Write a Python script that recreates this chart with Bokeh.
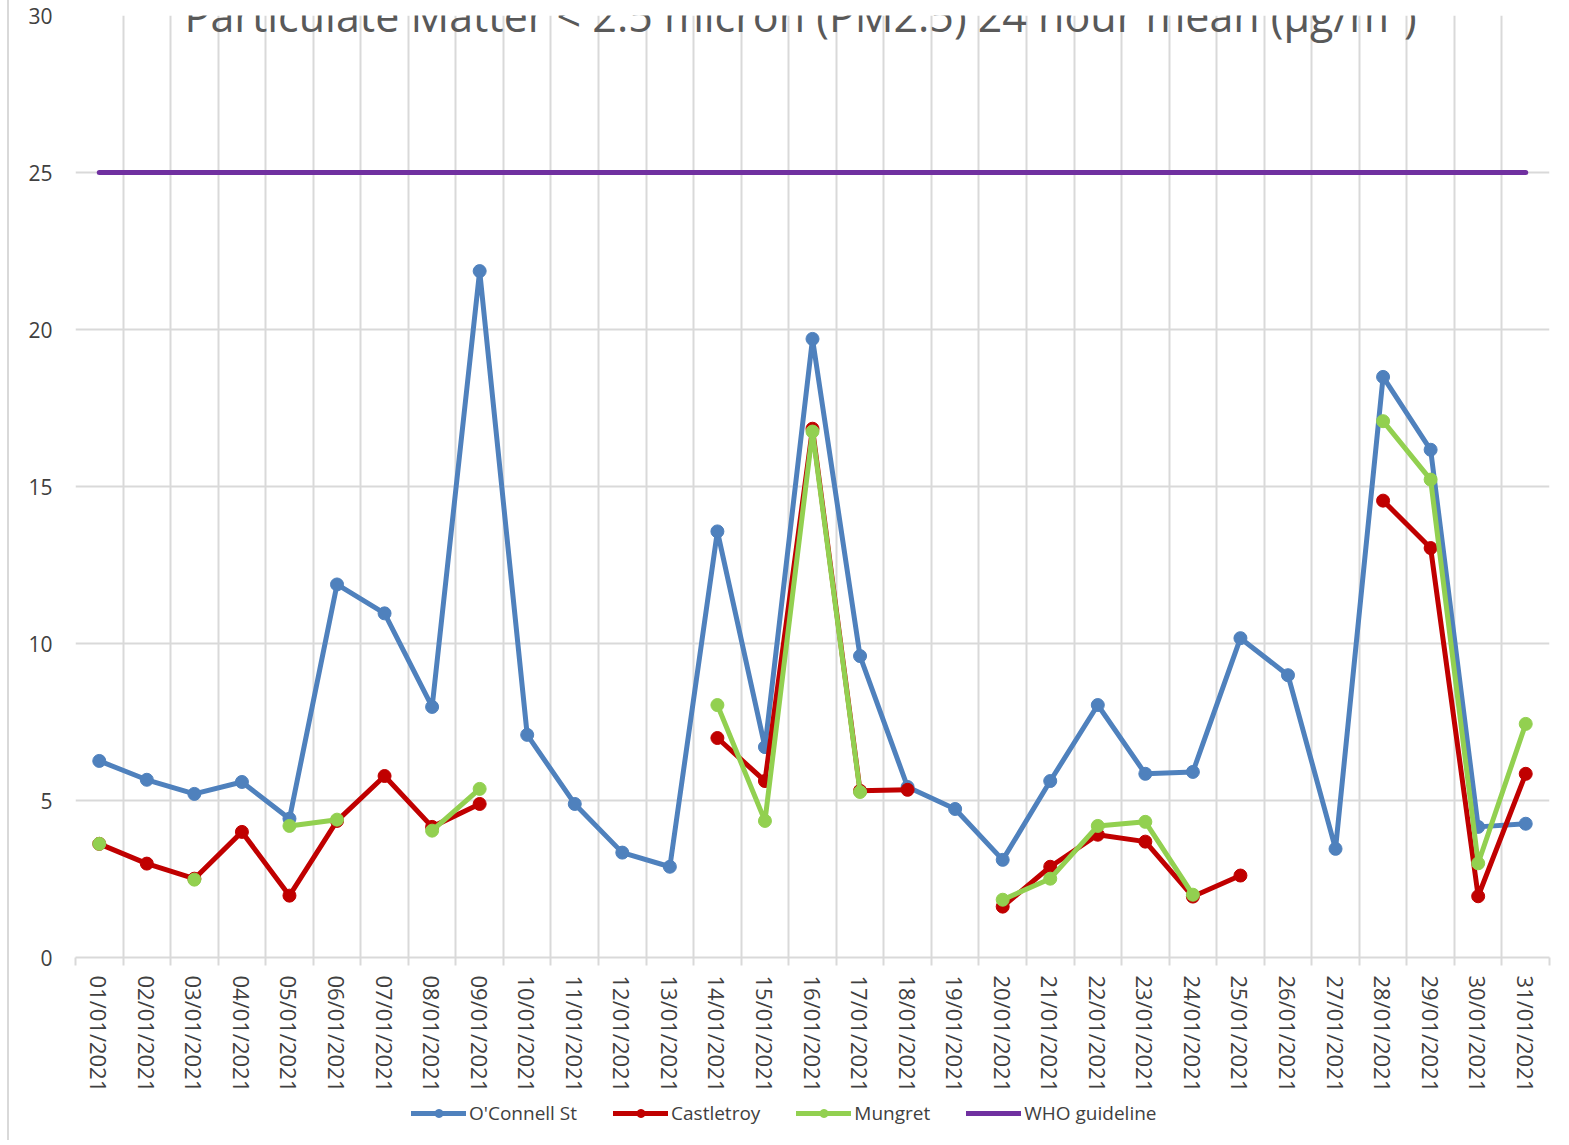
from bokeh.plotting import figure
from bokeh.layouts import column
from bokeh.models import Range1d, FixedTicker, Legend, LegendItem, Label
from bokeh.embed import file_html
from bokeh.resources import INLINE

nan = float("nan")

days = list(range(1, 32))
date_labels = ["01/01/2021", "02/01/2021", "03/01/2021", "04/01/2021", "05/01/2021",
               "06/01/2021", "07/01/2021", "08/01/2021", "09/01/2021", "10/01/2021",
               "11/01/2021", "12/01/2021", "13/01/2021", "14/01/2021", "15/01/2021",
               "16/01/2021", "17/01/2021", "18/01/2021", "19/01/2021", "20/01/2021",
               "21/01/2021", "22/01/2021", "23/01/2021", "24/01/2021", "25/01/2021",
               "26/01/2021", "27/01/2021", "28/01/2021", "29/01/2021", "30/01/2021",
               "31/01/2021"]

oconnell = [6.26, 5.66, 5.21, 5.59, 4.42, 11.88, 10.96, 7.98, 21.86, 7.09,
            4.89, 3.34, 2.89, 13.57, 6.70, 19.70, 9.60, 5.43, 4.73, 3.11,
            5.62, 8.04, 5.85, 5.91, 10.17, 8.99, 3.46, 18.49, 16.17, 4.16, 4.26]
castletroy = [3.62, 2.99, 2.51, 4.00, 1.97, 4.35, 5.78, 4.16, 4.89, nan,
              nan, nan, nan, 6.99, 5.62, 16.84, 5.31, 5.34, nan, 1.62,
              2.89, 3.91, 3.69, 1.94, 2.61, nan, nan, 14.55, 13.04, 1.95, 5.85]
mungret = [3.62, nan, 2.48, nan, 4.19, 4.39, nan, 4.04, 5.37, nan,
           nan, nan, nan, 8.04, 4.35, 16.75, 5.27, nan, nan, 1.84,
           2.51, 4.19, 4.32, 2.00, nan, nan, nan, 17.08, 15.22, 3.00, 7.44]
who_days = [1, 31]
who_level = [25, 25]

series_names = ["O'Connell St", "Castletroy", "Mungret", "WHO guideline"]

y_ticks = [0, 5, 10, 15, 20, 25, 30]
title_text = "Particulate Matter < 2.5 micron (PM2.5) 24 hour mean (\u00b5g/m\u00b3)"

BLUE = "#4f81bd"
RED = "#c00000"
GREEN = "#92d050"
PURPLE = "#7030a0"
GRID = "#d9d9d9"
TXT = "#404040"
FONT = "Open Sans"
BOX_STYLE = {"margin-left": "7px", "border-left": "2px solid #d9d9d9"}

p = figure(width=1560, height=1095, x_range=Range1d(0.5, 31.5), y_range=Range1d(0, 30),
           output_backend="svg", toolbar_location=None,
           min_border_left=66, min_border_right=20, min_border_top=15, min_border_bottom=136)
p.outline_line_color = None
p.background_fill_color = "white"
p.border_fill_color = "white"

boundaries = [d - 0.5 for d in days] + [days[-1] + 0.5]

# x axis
p.xaxis.ticker = FixedTicker(ticks=days, minor_ticks=boundaries)
p.xaxis.major_label_overrides = {d: lab for d, lab in zip(days, date_labels)}
p.xaxis.major_label_orientation = "vertical"
p.xaxis.major_tick_line_color = None
p.xaxis.major_tick_out = 0
p.xaxis.minor_tick_out = 8
p.xaxis.minor_tick_in = 0
p.xaxis.minor_tick_line_color = GRID
p.xaxis.minor_tick_line_width = 2
p.xaxis.axis_line_color = GRID
p.xaxis.axis_line_width = 2
p.xaxis.major_label_text_font = FONT
p.xaxis.major_label_text_font_size = "22px"
p.xaxis.major_label_text_color = TXT
p.xaxis.major_label_standoff = 10

# y axis
p.yaxis.ticker = FixedTicker(ticks=y_ticks)
p.yaxis.axis_line_color = None
p.yaxis.major_tick_line_color = None
p.yaxis.minor_tick_line_color = None
p.yaxis.major_label_text_font = FONT
p.yaxis.major_label_text_font_size = "21px"
p.yaxis.major_label_text_color = TXT
p.yaxis.major_label_standoff = 17

p.xgrid.ticker = FixedTicker(ticks=boundaries)
p.xgrid.grid_line_color = GRID
p.xgrid.grid_line_width = 2
p.ygrid.grid_line_color = GRID
p.ygrid.grid_line_width = 2

LW = 5
MS = 13

p.line(days, oconnell, line_color=BLUE, line_width=LW, line_join="round", line_cap="round")
p.scatter(days, oconnell, size=MS, fill_color=BLUE, line_color=BLUE)
p.line(days, castletroy, line_color=RED, line_width=LW, line_join="round", line_cap="round")
p.scatter(days, castletroy, size=MS, fill_color=RED, line_color=RED)
p.line(days, mungret, line_color=GREEN, line_width=LW, line_join="round", line_cap="round")
p.scatter(days, mungret, size=MS, fill_color=GREEN, line_color=GREEN)
p.line(who_days, who_level, line_color=PURPLE, line_width=LW, line_cap="round")

title = Label(x=15.75, y=30, text=title_text, text_align="center", text_baseline="alphabetic",
              text_font=FONT, text_font_size="43px", text_color="#595959")
p.add_layout(title)
p.styles = BOX_STYLE

# legend strip (separate figure under the chart; its renderers are legend swatches only)
lf = figure(width=1560, height=45, x_range=Range1d(0, 1), y_range=Range1d(0, 1),
            output_backend="svg", toolbar_location=None, x_axis_type=None, y_axis_type=None,
            min_border_left=0, min_border_right=0, min_border_top=0, min_border_bottom=0)
lf.outline_line_color = None
lf.grid.visible = False
lf.border_fill_color = "white"
items = []
for name, col, has_marker in zip(series_names, [BLUE, RED, GREEN, PURPLE], [True, True, True, False]):
    rs = [lf.line([nan, nan], [nan, nan], line_color=col, line_width=LW, line_cap="round")]
    if has_marker:
        rs.append(lf.scatter([nan], [nan], size=MS, fill_color=col, line_color=col))
    items.append(LegendItem(label=name, renderers=rs))
legend = Legend(items=items, location=(336, 14), orientation="horizontal")
legend.label_text_font = FONT
legend.label_text_font_size = "19px"
legend.label_text_color = "#404040"
legend.glyph_width = 55
legend.glyph_height = 20
legend.spacing = 36
legend.label_standoff = 3
legend.padding = 0
legend.margin = 0
legend.border_line_color = None
legend.background_fill_alpha = 0
lf.add_layout(legend, "center")
lf.styles = BOX_STYLE

layout = column(p, lf, spacing=0)
open("out.html", "w").write(file_html(layout, INLINE))
